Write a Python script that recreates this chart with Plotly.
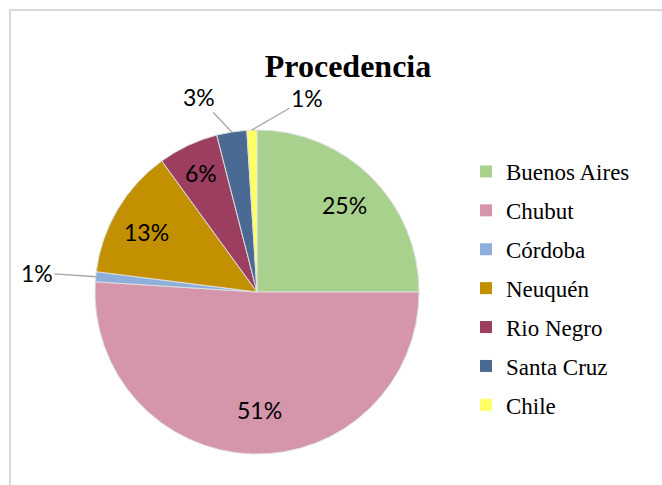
import math
import plotly.graph_objects as go

labels = ["Buenos Aires", "Chubut", "Córdoba", "Neuquén", "Rio Negro", "Santa Cruz", "Chile"]
values = [25, 51, 1, 13, 6, 3, 1]
colors = ["#a9d18e", "#d596ac", "#8eaedb", "#c29000", "#9b3e60", "#4a6a93", "#ffff66"]
title_text = "Procedencia"

W, H = 662, 485
cx, cy, R = 257, 292, 162  # pie centre/radius in px (layout)

fig = go.Figure()
fig.add_trace(go.Pie(
    labels=labels, values=values, sort=False, direction="clockwise", rotation=0,
    marker=dict(colors=colors, line=dict(color="#dddddd", width=1)),
    textinfo="none", hoverinfo="label+percent", showlegend=False,
    domain=dict(x=[(cx - R) / W, (cx + R) / W], y=[1 - (cy + R) / H, 1 - (cy - R) / H]),
))

# legend via dummy traces for custom spacing
for i, (lab, col) in enumerate(zip(labels, colors)):
    fig.add_trace(go.Scatter(x=[None], y=[None], mode="markers", name=lab,
                             marker=dict(symbol="square", size=12, color=col),
                             legendgroup=str(i), showlegend=True))

# data labels
total = sum(values)
outside_offsets = {2: (-59, -4), 5: (-33, -35), 6: (55, -32)}
inside_frac = {0: 0.76, 1: 0.73, 3: 0.78, 4: 0.81}
inside_shift_deg = {0: 0, 1: -3, 3: -2, 4: 0}
cum = 0
for i, v in enumerate(values):
    mid = (cum + v / 2) / total * 2 * math.pi
    cum += v
    pct = f"{round(v / total * 100)}%"
    if i in outside_offsets:
        tx = cx + R * math.sin(mid)
        ty = cy - R * math.cos(mid)
        ax, ay = outside_offsets[i]
        fig.add_annotation(x=tx / W, y=1 - ty / H, xref="paper", yref="paper",
                           text=pct, showarrow=True, arrowhead=0, arrowwidth=1.3,
                           arrowcolor="#a6a6a6", ax=ax, ay=ay, standoff=0,
                           font=dict(family="Lato", size=23, color="black"))
    else:
        f = inside_frac[i]
        a = mid + math.radians(inside_shift_deg[i])
        tx = cx + f * R * math.sin(a)
        ty = cy - f * R * math.cos(a)
        fig.add_annotation(x=tx / W, y=1 - ty / H, xref="paper", yref="paper",
                           xanchor="center", yanchor="middle",
                           text=pct, showarrow=False,
                           font=dict(family="Lato", size=23, color="black"))

fig.add_shape(type="rect", xref="paper", yref="paper",
              x0=10 / W, x1=1.05, y0=-0.05, y1=1 - 10 / H,
              line=dict(color="#d9d9d9", width=2))

fig.update_layout(
    width=W, height=H, margin=dict(l=0, r=0, t=0, b=0),
    paper_bgcolor="white", plot_bgcolor="white",
    title=dict(text=f"<b>{title_text}</b>", x=348 / W, xanchor="center",
               y=1 - 66 / H, yanchor="middle",
               font=dict(family="Liberation Serif", size=32, color="black")),
    xaxis=dict(visible=False), yaxis=dict(visible=False),
    legend=dict(x=(506 - 40) / W, y=1 - 150 / H, xanchor="left", yanchor="top",
                font=dict(family="Liberation Serif", size=23, color="black"),
                tracegroupgap=6, bgcolor="rgba(0,0,0,0)"),
)

fig.write_html("out.html", config={"displayModeBar": False},
               post_script="document.body.style.margin='0';")
